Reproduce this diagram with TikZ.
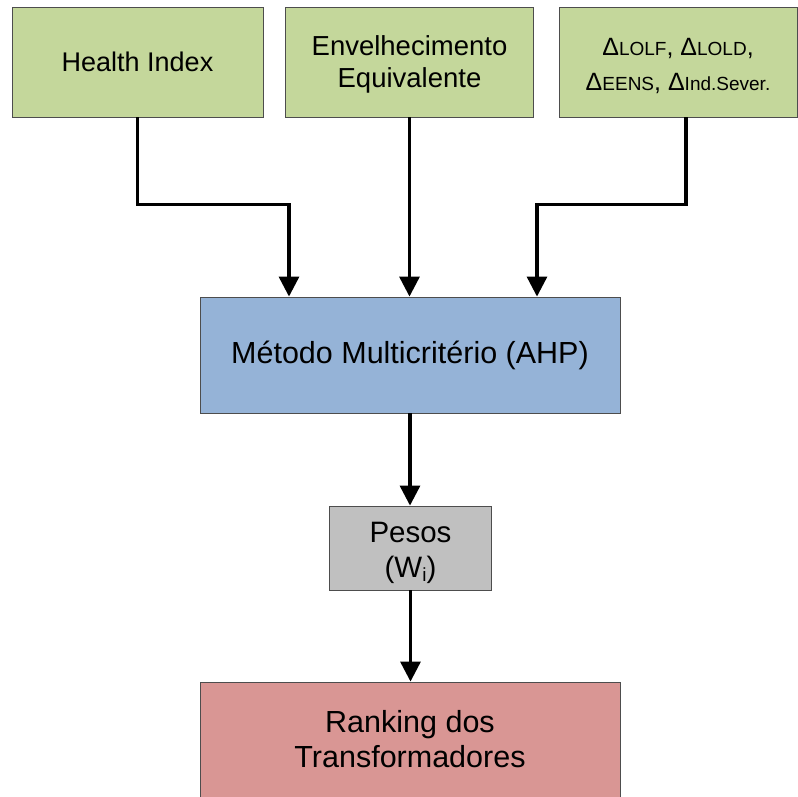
\documentclass[tikz,border=0pt]{standalone}
\usepackage{fontspec}
\setmainfont{Liberation Sans}
\usetikzlibrary{arrows.meta,calc}
\definecolor{boxgreen}{HTML}{C4D79B}
\definecolor{boxblue}{HTML}{95B3D7}
\definecolor{boxgray}{HTML}{C0C0C0}
\definecolor{boxred}{HTML}{D99694}
\definecolor{boxedge}{HTML}{4D4D4D}
\newcommand\dlt[1]{Δ{\fontsize{19}{22}\selectfont #1}}
\newcommand\shiftdown[2]{\raisebox{-#1}[\height][\depth]{\begin{tabular}{@{}c@{}}#2\end{tabular}}}
\begin{document}
\begin{tikzpicture}[x=1pt,y=-1pt,
  box/.style={draw=boxedge, line width=0.9pt, inner sep=0pt, align=center, text=black},
  conn/.style={line width=3.2pt, -{Triangle[width=20pt,length=20pt]}}]
\useasboundingbox (0,0) rectangle (798,796);
\clip (0,0) rectangle (798,796);

\node[box, fill=boxgreen, minimum width=251pt, minimum height=110pt,
  font=\fontsize{27}{32}\selectfont] (health) at (137.5,62) {Health Index};
\node[box, fill=boxgreen, minimum width=248pt, minimum height=110pt,
  font=\fontsize{27.5}{32}\selectfont] (env) at (409.5,62)
  {\shiftdown{3pt}{Envelhecimento\\Equivalente}};
\node[box, fill=boxgreen, minimum width=238pt, minimum height=110pt,
  font=\fontsize{25}{35}\selectfont] (delta) at (678,62)
  {\shiftdown{4pt}{\dlt{LOLF}, \dlt{LOLD},\\ \dlt{EENS}, \dlt{Ind.Sever.}}};

\node[box, fill=boxblue, minimum width=420pt, minimum height=116pt,
  font=\fontsize{30.5}{36}\selectfont] (ahp) at (410,355) {Método Multicritério (AHP)};
\node[box, fill=boxgray, minimum width=162pt, minimum height=84pt,
  font=\fontsize{29.5}{35}\selectfont] (pesos) at (410.5,548)
  {\shiftdown{4.5pt}{Pesos\\(W\raisebox{-4pt}{\fontsize{19}{22}\selectfont i})}};
\node[box, fill=boxred, minimum width=420pt, minimum height=116pt,
  font=\fontsize{30.5}{35}\selectfont] (rank) at (410,740)
  {\shiftdown{3pt}{Ranking dos\\Transformadores}};

\draw[conn] (health.south) -- ($(health.south)+(0,87)$) -| ($(ahp.north)+(-121,0)$);
\draw[conn] (env.south) -- (env.south |- ahp.north);
\draw[conn] ($(delta.south)+(8,0)$) -- ($(delta.south)+(8,87)$) -| ($(ahp.north)+(127,0)$);
\draw[conn] (ahp.south) -- (ahp.south |- pesos.north);
\draw[conn] (pesos.south) -- (pesos.south |- rank.north);
\end{tikzpicture}
\end{document}
